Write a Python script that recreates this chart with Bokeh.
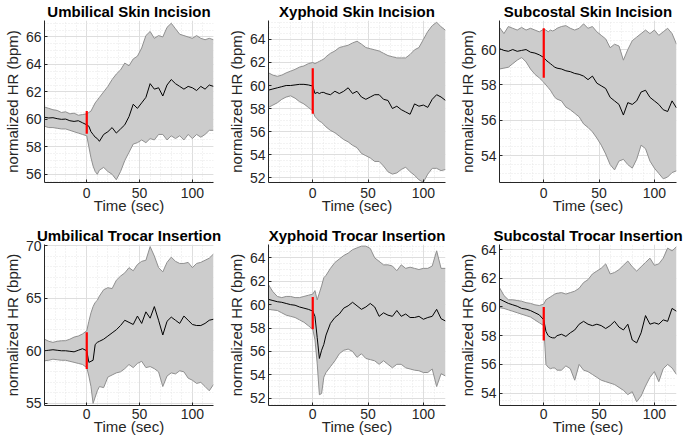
import numpy as np
from bokeh.plotting import figure
from bokeh.layouts import gridplot
from bokeh.models import Range1d, FixedTicker
from bokeh.embed import file_html
from bokeh.resources import INLINE

# ---------------- data ----------------
time_s = [-40, -36, -32, -28, -24, -20, -16, -12, -8, -4, 0, 2, 4, 6, 8, 10, 12, 16, 20, 24,
          28, 32, 36, 40, 44, 48, 52, 56, 60, 64, 68, 72, 76, 80, 84, 88, 92, 96, 100, 104,
          108, 112, 116, 120]
event_time = 0

titles = ["Umbilical Skin Incision", "Xyphoid Skin Incision", "Subcostal Skin Incision",
          "Umbilical Trocar Insertion", "Xyphoid Trocar Insertion", "Subcostal Trocar Insertion"]

# Umbilical Skin Incision
umb_skin_mean = [60.15, 60.1, 60.12, 60.05, 60.0, 60.02, 59.9, 59.85, 59.9, 59.75, 59.6, 59.5, 59.1, 58.9, 58.7, 58.6, 58.4, 58.9, 59.1, 59.4,
                 59.0, 59.3, 59.6, 60.2, 61.1, 60.8, 61.2, 61.6, 62.6, 62.2, 62.3, 61.7, 62.5, 62.9, 62.6, 62.4, 62.2, 62.4, 62.3, 62.1,
                 62.4, 62.2, 62.5, 62.4]
umb_skin_upper = [60.9, 60.8, 60.7, 60.65, 60.5, 60.55, 60.4, 60.45, 60.3, 60.35, 60.4, 60.5, 60.6, 60.9, 61.2, 61.4, 61.6, 62.0, 62.4, 62.9,
                  63.3, 63.6, 64.1, 63.9, 64.4, 64.6, 65.2, 66.1, 66.4, 65.9, 66.1, 66.0, 66.7, 67.0, 66.6, 66.2, 66.1, 66.0, 65.9, 66.1,
                  65.9, 65.8, 65.9, 65.8]
umb_skin_lower = [59.5, 59.4, 59.4, 59.35, 59.3, 59.3, 59.2, 59.1, 59.0, 58.9, 58.8, 58.0, 57.2, 56.6, 56.2, 56.0, 56.3, 56.5, 56.2, 56.0,
                  55.6, 56.2, 57.0, 57.6, 58.2, 58.3, 58.5, 58.3, 58.6, 58.5, 58.9, 58.9, 58.5, 58.8, 58.6, 58.8, 58.5, 58.9, 58.6, 58.9,
                  58.7, 58.9, 59.2, 59.2]

# Xyphoid Skin Incision
xyp_skin_mean = [59.6, 59.7, 59.8, 59.9, 60.0, 60.0, 60.05, 60.1, 60.1, 60.05, 59.95, 59.3, 59.4, 59.3, 59.4, 59.4, 59.3, 59.2, 59.5, 59.3,
                 59.5, 59.8, 59.3, 59.5, 59.0, 58.8, 59.0, 59.2, 59.2, 58.8, 58.7, 58.0, 58.2, 57.9, 57.7, 57.5, 58.4, 58.2, 58.3, 58.1,
                 58.8, 59.2, 59.0, 58.7]
xyp_skin_upper = [61.1, 60.9, 60.8, 60.9, 61.1, 61.25, 61.4, 61.6, 61.7, 61.9, 62.0, 61.9, 62.0, 62.1, 62.2, 62.3, 62.5, 62.8, 63.0, 63.3,
                  63.4, 63.5, 63.7, 63.85, 63.6, 63.3, 63.2, 63.1, 63.0, 62.8, 62.6, 62.5, 62.4, 62.4, 62.4, 62.7, 63.1, 63.3, 64.0, 64.7,
                  65.2, 65.5, 65.1, 64.8]
xyp_skin_lower = [58.1, 58.3, 58.5, 58.8, 59.0, 59.1, 58.9, 58.6, 58.4, 58.1, 57.8, 57.3, 57.1, 56.9, 56.8, 56.6, 56.4, 56.1, 55.9, 55.6,
                  55.3, 55.1, 54.8, 54.6, 54.1, 53.9, 53.7, 53.4, 53.4, 53.0, 52.5, 52.3, 52.4, 52.7, 52.9, 52.5, 52.2, 51.8, 51.6, 52.3,
                  52.8, 52.8, 52.6, 52.7]

# Subcostal Skin Incision
sub_skin_mean = [60.05, 59.95, 59.9, 60.0, 59.9, 59.95, 60.0, 59.85, 59.8, 59.7, 59.55, 59.4, 59.3, 59.2, 59.1, 59.0, 58.95, 58.9, 58.8, 58.75,
                 58.65, 58.6, 58.5, 58.3, 58.5, 58.1, 57.95, 57.8, 57.3, 57.1, 56.9, 56.3, 57.0, 56.9, 57.1, 57.6, 57.7, 57.3, 57.1, 56.9,
                 56.6, 56.5, 57.1, 56.7]
sub_skin_upper = [61.25, 60.9, 61.3, 61.2, 61.1, 61.25, 61.1, 61.2, 61.1, 61.0, 61.15, 61.1, 61.0, 61.1, 61.05, 61.1, 61.2, 61.3, 61.35, 61.2,
                  61.1, 61.2, 61.45, 61.2, 61.3, 61.0, 60.8, 60.6, 60.1, 60.3, 60.2, 59.4, 60.0, 60.5, 60.7, 60.9, 61.1, 60.9, 61.1, 60.8,
                  61.0, 61.2, 60.9, 60.3]
sub_skin_lower = [58.9, 58.95, 59.0, 59.2, 59.4, 59.55, 59.3, 58.9, 58.6, 58.4, 58.15, 58.0, 57.85, 57.7, 57.5, 57.3, 57.2, 57.1, 56.75, 56.6,
                  56.4, 56.2, 55.8, 55.6, 55.35, 55.0, 54.6, 54.1, 53.5, 53.2, 53.7, 53.8, 53.5, 53.3, 53.8, 54.6, 54.4, 53.7, 53.3, 53.0,
                  52.7, 52.8, 53.05, 53.15]

# Umbilical Trocar Insertion
umb_troc_mean = [60.0, 60.05, 60.1, 60.05, 60.0, 60.0, 59.95, 59.9, 60.05, 60.2, 60.0, 58.9, 59.0, 59.1, 60.6, 60.8, 60.9, 61.1, 61.4, 61.7,
                 62.0, 62.4, 62.9, 62.7, 62.5, 63.3, 62.6, 63.7, 63.1, 64.2, 62.9, 61.5, 62.8, 63.2, 62.9, 62.6, 63.3, 62.9, 62.5, 62.4,
                 62.4, 62.6, 62.9, 63.0]
umb_troc_upper = [61.1, 60.9, 60.8, 60.9, 60.95, 60.96, 61.1, 61.3, 61.4, 61.6, 61.9, 62.8, 63.6, 64.2, 64.6, 64.8, 65.2, 65.8, 66.0, 65.9,
                  66.7, 67.1, 67.4, 67.9, 67.6, 68.2, 68.5, 68.6, 69.9, 69.0, 67.9, 67.5, 68.4, 68.9, 68.5, 68.3, 68.3, 68.4, 67.9, 68.3,
                  68.4, 68.6, 68.8, 69.2]
umb_troc_lower = [59.05, 59.1, 59.2, 59.15, 59.1, 59.1, 59.0, 58.9, 58.8, 58.7, 58.4, 57.6, 56.6, 55.0, 55.6, 56.2, 56.6, 56.5, 57.5, 57.7,
                  57.9, 58.0, 58.3, 58.7, 58.4, 58.8, 59.0, 58.4, 58.5, 58.3, 58.0, 56.6, 57.6, 57.9, 57.8, 58.1, 58.0, 57.4, 57.2, 56.9,
                  57.0, 56.6, 56.2, 56.8]

# Xyphoid Trocar Insertion
xyp_troc_mean = [60.45, 60.35, 60.25, 60.2, 60.1, 60.0, 59.95, 59.8, 59.7, 59.6, 59.45, 59.0, 57.2, 55.4, 56.1, 56.6, 57.4, 58.4, 58.9, 59.2,
                 59.7, 59.9, 60.2, 59.9, 59.6, 59.8, 60.1, 59.8, 59.0, 59.3, 59.1, 59.0, 59.5, 59.0, 59.2, 58.9, 58.9, 59.0, 58.75, 58.9,
                 59.0, 59.6, 58.8, 58.6]
xyp_troc_upper = [61.7, 61.1, 60.7, 60.6, 60.7, 60.7, 60.6, 60.6, 60.7, 60.8, 60.9, 61.2, 60.4, 61.0, 61.6, 62.3, 62.5, 63.1, 63.6, 63.9,
                  64.2, 64.4, 64.7, 64.85, 65.0, 65.0, 64.8, 64.0, 63.7, 63.4, 63.4, 63.3, 62.9, 63.4, 63.1, 63.2, 63.1, 63.0, 63.1, 63.1,
                  63.3, 64.6, 63.1, 63.1]
xyp_troc_lower = [59.6, 59.55, 59.5, 59.3, 59.1, 59.0, 58.9, 58.7, 58.5, 58.2, 57.9, 57.0, 55.0, 52.3, 52.4, 53.8, 54.2, 54.7, 55.2, 55.8,
                  56.1, 56.2, 56.0, 55.5, 55.8, 55.4, 55.3, 55.2, 54.9, 55.2, 54.9, 54.6, 54.9, 54.9, 54.6, 54.5, 54.4, 54.35, 54.2, 54.2,
                  54.5, 53.0, 54.1, 53.9]

# Subcostal Trocar Insertion
sub_troc_mean = [60.55, 60.4, 60.25, 60.15, 60.05, 59.9, 59.85, 59.75, 59.6, 59.45, 59.1, 58.3, 58.0, 57.9, 57.85, 57.85, 58.0, 58.1, 57.95, 58.2,
                 58.4, 58.8, 59.0, 58.8, 58.7, 58.8, 58.7, 58.5, 58.7, 59.0, 58.6, 58.4, 58.8, 57.7, 57.5, 58.2, 59.4, 58.8, 58.9, 58.8,
                 59.1, 59.0, 59.9, 59.7]
sub_troc_upper = [61.35, 60.8, 60.5, 60.5, 60.45, 60.4, 60.3, 60.25, 60.15, 60.1, 60.2, 60.5, 60.6, 60.7, 60.8, 60.9, 60.95, 61.0, 60.9, 61.0,
                  61.1, 61.3, 61.7, 61.9, 62.3, 62.5, 62.7, 63.0, 62.3, 62.4, 62.6, 62.9, 63.2, 62.8, 62.5, 62.8, 63.1, 63.4, 62.9, 63.0,
                  63.4, 64.1, 63.9, 64.2]
sub_troc_lower = [59.95, 59.9, 59.8, 59.7, 59.6, 59.5, 59.4, 59.3, 59.1, 58.9, 58.7, 56.0, 55.8, 55.7, 55.75, 55.75, 55.6, 55.6, 55.9, 55.7,
                  54.9, 56.0, 55.6, 55.5, 55.3, 55.1, 54.9, 54.8, 54.7, 54.6, 54.4, 54.2, 53.9, 54.1, 53.4, 53.8, 54.5, 55.1, 55.5, 54.8,
                  55.7, 56.0, 55.75, 55.3]

# event marker extents (bpm) at t = 0
marker_low = [58.95, 57.55, 58.4, 58.26, 57.9, 57.67]
marker_high = [60.6, 61.5, 61.2, 61.75, 60.65, 60.0]

# axis limits and tick labels
x_limits = (-40, 120)
x_ticks = [0, 50, 100]
y_limits = [(55.4, 67.2), (51.57, 65.65), (52.49, 61.64), (54.8, 70.1), (51.38, 65.14), (53.14, 64.35)]
y_ticks = [[56, 58, 60, 62, 64, 66], [52, 54, 56, 58, 60, 62, 64], [54, 56, 58, 60],
           [55, 60, 65, 70], [52, 54, 56, 58, 60, 62, 64], [54, 56, 58, 60, 62, 64]]
y_minor_step = [0.5, 0.5, 0.5, 1.0, 0.5, 0.5]

means = [umb_skin_mean, xyp_skin_mean, sub_skin_mean, umb_troc_mean, xyp_troc_mean, sub_troc_mean]
uppers = [umb_skin_upper, xyp_skin_upper, sub_skin_upper, umb_troc_upper, xyp_troc_upper, sub_troc_upper]
lowers = [umb_skin_lower, xyp_skin_lower, sub_skin_lower, umb_troc_lower, xyp_troc_lower, sub_troc_lower]

# ---------------- styling / layout ----------------
FONT = "Liberation Sans"
BAND_FILL = "#cccccc"
BAND_EDGE = "#8f8f8f"
AXIS_COL = "#262626"

COL_W = [224, 231, 230]
BORDER_LEFT = 44
BORDER_RIGHT = [11, 10, 9]
ROW_H = [224, 216]
ROW_TOP = [19, 20]
ROW_BOTTOM = [42, 35]
X_LABEL_STANDOFF = [(5, -4), (3, -4)]


def make_panel(i):
    row, col = divmod(i, 3)
    ylo, yhi = y_limits[i]
    p = figure(output_backend="svg", toolbar_location=None,
               width=COL_W[col], height=ROW_H[row],
               min_border_left=BORDER_LEFT, min_border_right=BORDER_RIGHT[col],
               min_border_top=ROW_TOP[row], min_border_bottom=ROW_BOTTOM[row],
               x_range=Range1d(*x_limits), y_range=Range1d(ylo, yhi),
               background_fill_color="white", border_fill_color="white")
    p.outline_line_color = None

    p.title.text = titles[i]
    p.title.align = "center"
    p.title.text_font = FONT
    p.title.text_font_size = "15px"
    p.title.text_font_style = "bold"
    p.title.text_color = "black"
    p.title.standoff = 1
    p.title.offset = 0

    xminor = list(np.arange(x_limits[0], x_limits[1] + 0.01, 10))
    yminor = list(np.arange(np.ceil(ylo / y_minor_step[i]) * y_minor_step[i], yhi + 1e-6, y_minor_step[i]))
    p.xaxis.ticker = FixedTicker(ticks=x_ticks, minor_ticks=xminor)
    p.yaxis.ticker = FixedTicker(ticks=y_ticks[i], minor_ticks=yminor)

    for ax in (p.xaxis[0], p.yaxis[0]):
        ax.axis_line_color = AXIS_COL
        ax.axis_line_width = 1
        ax.major_tick_in = 3
        ax.major_tick_out = 0
        ax.major_tick_line_color = AXIS_COL
        ax.minor_tick_in = 0
        ax.minor_tick_out = 0
        ax.major_label_text_font = FONT
        ax.major_label_text_font_size = "14px"
        ax.major_label_text_color = AXIS_COL
        ax.axis_label_text_font = FONT
        ax.axis_label_text_font_size = "15px"
        ax.axis_label_text_font_style = "normal"
        ax.axis_label_text_color = AXIS_COL
    p.xaxis.major_label_standoff = X_LABEL_STANDOFF[row][0]
    p.xaxis.axis_label_standoff = X_LABEL_STANDOFF[row][1]
    p.yaxis.major_label_standoff = 3
    p.yaxis.axis_label_standoff = 2
    p.xaxis.axis_label = "Time (sec)"
    p.yaxis.axis_label = "normalized HR (bpm)"

    p.xgrid.grid_line_color = "#dedede"
    p.ygrid.grid_line_color = "#dedede"
    p.xgrid.minor_grid_line_color = "#e6e6e6"
    p.ygrid.minor_grid_line_color = "#e6e6e6"
    p.xgrid.minor_grid_line_dash = "1 2"
    p.ygrid.minor_grid_line_dash = "1 2"

    p.varea(x=time_s, y1=lowers[i], y2=uppers[i], fill_color=BAND_FILL)
    p.line(time_s, uppers[i], line_color=BAND_EDGE, line_width=1)
    p.line(time_s, lowers[i], line_color=BAND_EDGE, line_width=1)
    p.line(time_s, means[i], line_color="black", line_width=1)
    p.segment(x0=[event_time], y0=[marker_low[i]], x1=[event_time], y1=[marker_high[i]],
              line_color="red", line_width=2.2)
    return p


panels = [make_panel(i) for i in range(6)]
grid = gridplot([panels[0:3], panels[3:6]], toolbar_location=None)

open("out.html", "w").write(file_html(grid, INLINE))
